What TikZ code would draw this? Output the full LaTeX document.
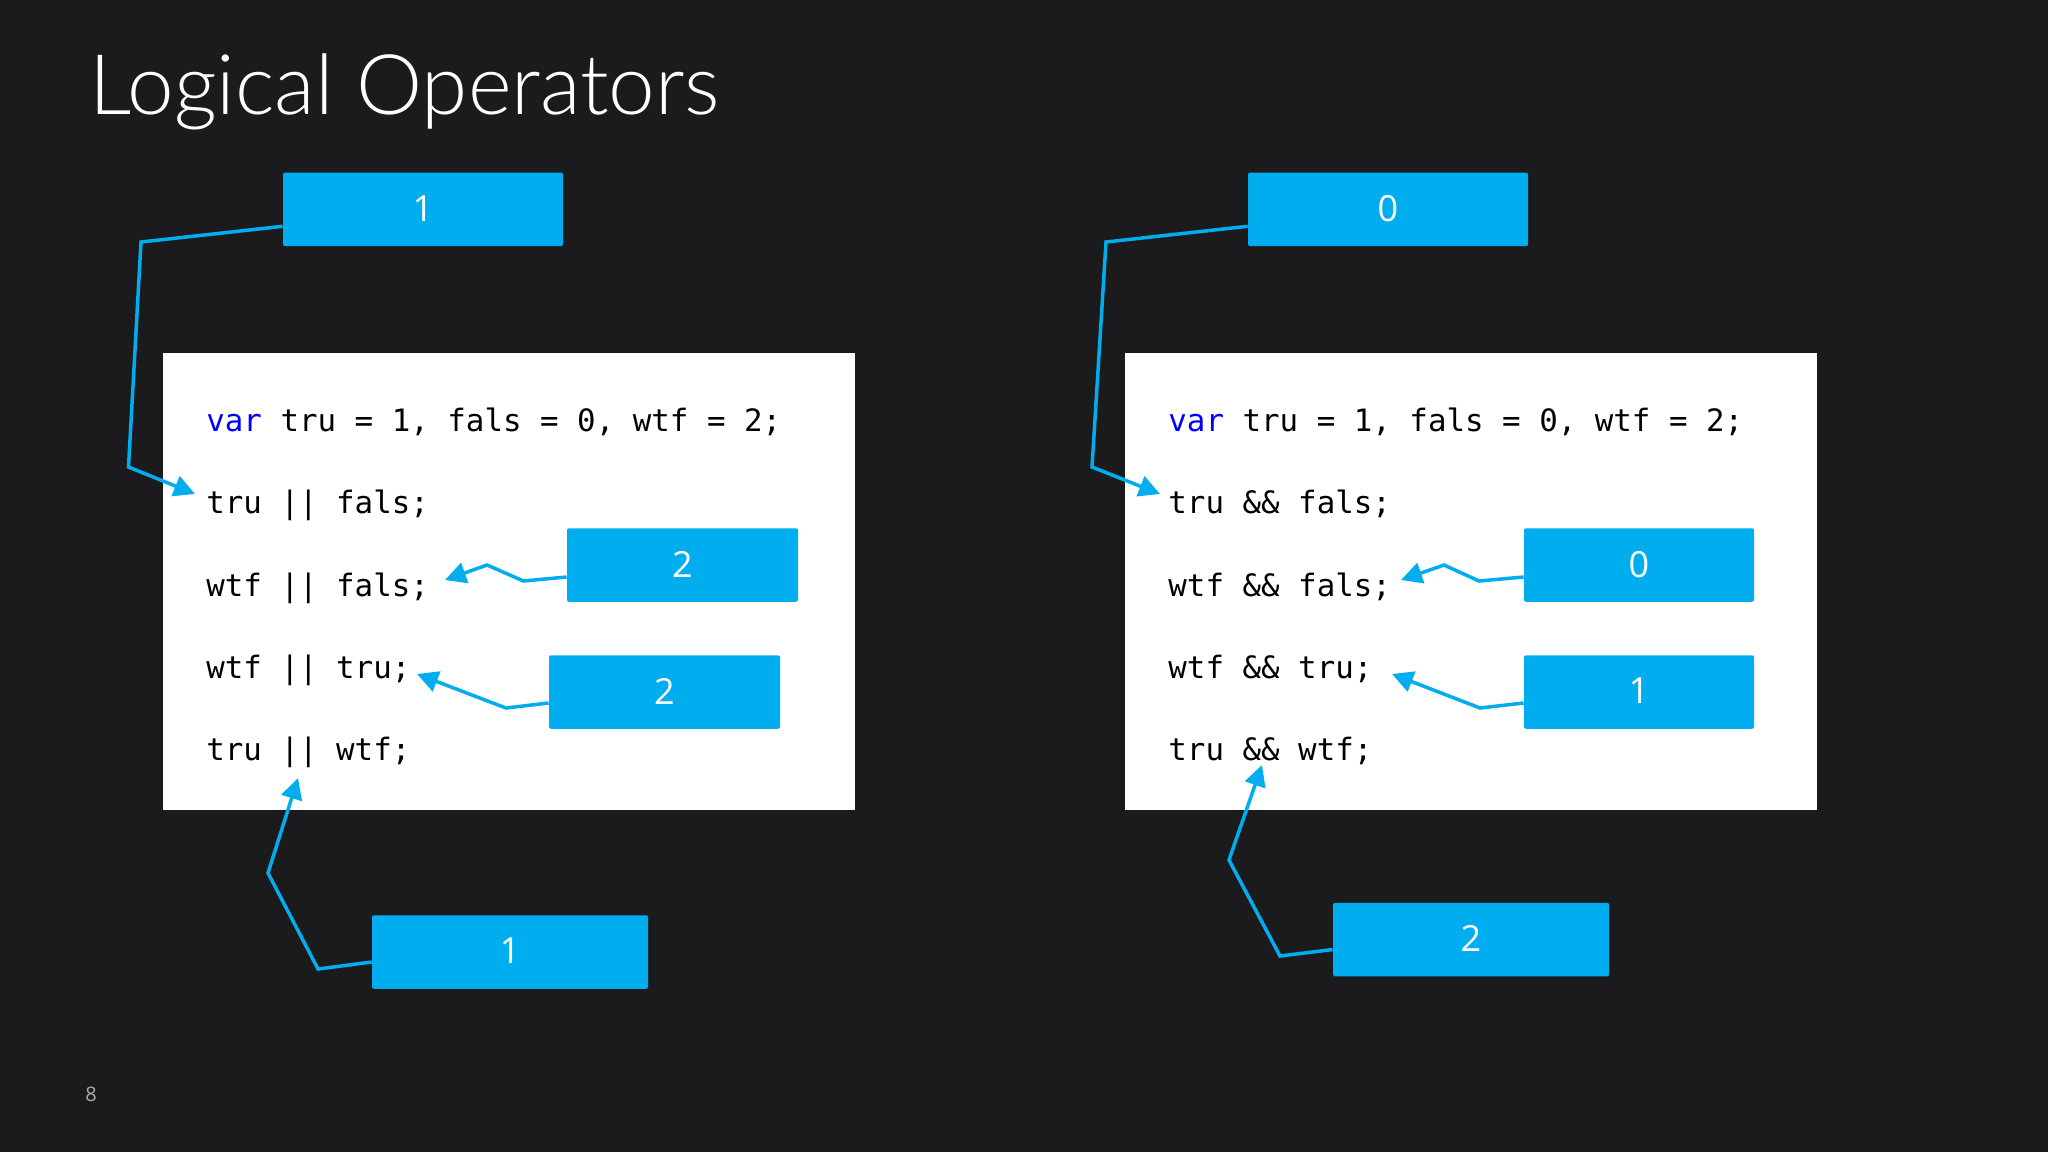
\documentclass[tikz,border=0pt]{standalone}
\usepackage{fontspec}
\setmainfont{Open Sans}
\newfontfamily\codefont{DejaVu Sans Mono}
\newfontfamily\titlefont{Lato Light}
\usetikzlibrary{arrows.meta,calc}
\definecolor{bg}{RGB}{27,27,29}
\definecolor{accent}{RGB}{0,174,239}
\definecolor{kw}{RGB}{0,0,255}
\definecolor{pgnum}{RGB}{170,170,170}
\newcommand{\boxnum}[1]{\raisebox{1pt}{#1}}
\begin{document}
\begin{tikzpicture}[x=0.5pt,y=-0.5pt,
  numbox/.style={fill=accent, text=white, rounded corners=1pt, inner sep=0pt,
    font=\fontsize{18}{20}\selectfont, minimum height=36.75pt},
  codebox/.style={fill=white, inner sep=0pt, minimum width=346pt, minimum height=228.5pt},
  codeline/.style={anchor=base west, inner sep=0pt, font=\codefont\fontsize{15.4}{18}\selectfont},
  conn/.style={draw=accent, line width=1.75pt, line join=miter, -{Triangle[length=10.5pt,width=10.5pt]}}]
\fill[bg] (0,0) rectangle (2048,1152);
\useasboundingbox (0,0) rectangle (2048,1152);

\node[anchor=base west, inner sep=0pt, text=white, font=\titlefont\fontsize{41.8}{48}\selectfont] (title) at (89,114) {Logical Operators};
\node[anchor=base west, inner sep=0pt, text=pgnum, font=\fontsize{10}{12}\selectfont] (page) at (85,1101) {8};

% code panels
\node[codebox] (lpanel) at (509,581.5) {};
\node[codebox] (rpanel) at (1470.5,581.5) {};

\node[codeline] (la) at (206,431) {\textcolor{kw}{var} tru = 1, fals = 0, wtf = 2;};
\node[codeline] (lb) at (206,513) {tru || fals;};
\node[codeline] (lc) at (206,596) {wtf || fals;};
\node[codeline] (ld) at (206,678) {wtf || tru;};
\node[codeline] (le) at (206,760) {tru || wtf;};

\node[codeline] (ra) at (1168,431) {\textcolor{kw}{var} tru = 1, fals = 0, wtf = 2;};
\node[codeline] (rb) at (1168,513) {tru \&\& fals;};
\node[codeline] (rc) at (1168,596) {wtf \&\& fals;};
\node[codeline] (rd) at (1168,678) {wtf \&\& tru;};
\node[codeline] (re) at (1168,760) {tru \&\& wtf;};

% result boxes
\node[numbox, minimum width=140pt] (tl) at (423,209.3) {\boxnum{1}};
\node[numbox, minimum width=140pt] (tr) at (1388,209.3) {\boxnum{0}};
\node[numbox, minimum width=115.5pt] (lfa) at (682.5,565) {\boxnum{2}};
\node[numbox, minimum width=115.5pt] (lfb) at (664.5,692) {\boxnum{2}};
\node[numbox, minimum width=138pt] (lbot) at (510,952) {\boxnum{1}};
\node[numbox, minimum width=115pt] (rfa) at (1639,565) {\boxnum{0}};
\node[numbox, minimum width=115pt] (rfb) at (1639,692) {\boxnum{1}};
\node[numbox, minimum width=138pt] (rbot) at (1471,939.5) {\boxnum{2}};

% arrow tips
\coordinate (t1) at (195,494);
\coordinate (t2) at (445,580);
\coordinate (t3) at (417,674);
\coordinate (t4) at (298,778);
\coordinate (u1) at (1160,494);
\coordinate (u2) at (1401,580);
\coordinate (u3) at (1392,674);
\coordinate (u4) at (1262,765);

% connectors
\draw[conn] ($(tl.west)+(0,17)$) -- (141,242) -- (128.5,467) -- (t1);
\draw[conn] ($(lfa.west)+(0,12)$) -- (523.5,581) -- (487,565) -- (t2);
\draw[conn] ($(lfb.west)+(0,11)$) -- (506,708) -- (t3);
\draw[conn] ($(lbot.west)+(0,10)$) -- (318,969) -- (268,873) -- (t4);

\draw[conn] ($(tr.west)+(0,17)$) -- (1106,242) -- (1092,467) -- (u1);
\draw[conn] ($(rfa.west)+(0,12)$) -- (1479,581) -- (1444,565) -- (u2);
\draw[conn] ($(rfb.west)+(0,11)$) -- (1480,708) -- (u3);
\draw[conn] ($(rbot.west)+(0,10)$) -- (1280,956) -- (1229,860) -- (u4);
\end{tikzpicture}
\end{document}
